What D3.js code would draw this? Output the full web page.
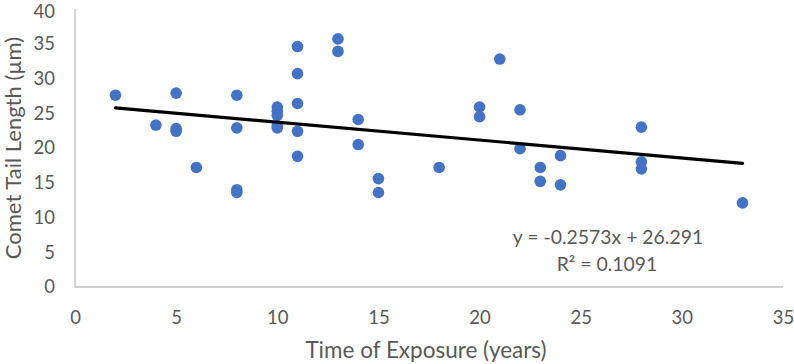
<!DOCTYPE html>
<html>
<head>
<meta charset="utf-8">
<script src="https://cdn.jsdelivr.net/npm/d3@7"></script>
<style>
  html, body { margin: 0; padding: 0; background: #fff; }
  svg text { font-family: Lato, "Open Sans", sans-serif; }
</style>
</head>
<body>
<svg id="chart" width="794" height="364"></svg>
<script>
// Data
const exposureYears = [2, 4, 5, 5, 5, 6, 8, 8, 8, 8, 10, 10, 10, 10, 10, 11, 11, 11, 11, 11, 13, 13, 14, 14, 15, 15, 18, 20, 20, 21, 22, 22, 23, 23, 24, 24, 28, 28, 28, 33];
const tailLength  = [27.6, 23.3, 27.9, 22.8, 22.4, 17.2, 27.6, 22.9, 14.0, 13.6, 25.9, 25.3, 24.7, 23.2, 22.9, 34.6, 30.7, 26.4, 22.4, 18.8, 35.7, 33.9, 24.1, 20.5, 15.6, 13.6, 17.2, 25.9, 24.5, 32.8, 25.5, 19.9, 17.2, 15.2, 18.9, 14.7, 23.0, 18.0, 17.0, 12.1];
const xTicks = [0, 5, 10, 15, 20, 25, 30, 35];
const yTicks = [0, 5, 10, 15, 20, 25, 30, 35, 40];
const trendSlope = -0.2573;
const trendIntercept = 26.291;
const trendLabel = "y = -0.2573x + 26.291";
const r2Label = "R² = 0.1091";
const xTitle = "Time of Exposure (years)";
const yTitle = "Comet Tail Length (µm)";

const svg = d3.select("#chart");
const x = d3.scaleLinear().domain([0, 35]).range([75, 783]);
const y = d3.scaleLinear().domain([0, 40]).range([287, 9]);

const axisColor = "#bfbfbf";
const textColor = "#595959";

// Axis lines
svg.append("line").attr("x1", x(0)).attr("x2", x(0)).attr("y1", y(40)).attr("y2", y(0))
  .attr("stroke", axisColor).attr("stroke-width", 1.3);
svg.append("line").attr("x1", x(0)).attr("x2", x(35)).attr("y1", y(0)).attr("y2", y(0))
  .attr("stroke", axisColor).attr("stroke-width", 1.3);

// Axes via d3 (tick labels only)
const xAxis = d3.axisBottom(x).tickValues(xTicks).tickSize(0).tickPadding(24).tickFormat(d3.format("d"));
const gx = svg.append("g").attr("transform", `translate(0,${y(0)})`).call(xAxis);
gx.select(".domain").remove();
gx.selectAll("text").attr("fill", textColor).style("font-size", "18.5px");

const yAxis = d3.axisLeft(y).tickValues(yTicks).tickSize(0).tickPadding(20).tickFormat(d3.format("d"));
const gy = svg.append("g").attr("transform", `translate(${x(0)},0)`).call(yAxis);
gy.select(".domain").remove();
gy.selectAll("text").attr("fill", textColor).style("font-size", "18.5px");
gy.selectAll("text").filter(d => d === 40).attr("dy", "0.45em");

// Points
const pts = exposureYears.map((d, i) => ({ x: d, y: tailLength[i] }));
svg.append("g").selectAll("circle").data(pts).join("circle")
  .attr("cx", d => x(d.x)).attr("cy", d => y(d.y)).attr("r", 5.8)
  .attr("fill", "#4472C4");

// Trendline
const xMin = d3.min(exposureYears), xMax = d3.max(exposureYears);
svg.append("line")
  .attr("x1", x(xMin)).attr("y1", y(trendSlope * xMin + trendIntercept))
  .attr("x2", x(xMax)).attr("y2", y(trendSlope * xMax + trendIntercept))
  .attr("stroke", "#000").attr("stroke-width", 3.2).attr("stroke-linecap", "round");

// Equation labels
svg.append("text").attr("x", 608).attr("y", 244).attr("text-anchor", "middle")
  .attr("fill", textColor).style("font-size", "19.4px").text(trendLabel);
svg.append("text").attr("x", 607).attr("y", 271).attr("text-anchor", "middle")
  .attr("fill", textColor).style("font-size", "19.4px").text(r2Label);

// Axis titles
svg.append("text").attr("x", 426).attr("y", 358).attr("text-anchor", "middle")
  .attr("fill", textColor).style("font-size", "22.5px").text(xTitle);
svg.append("text").attr("transform", "translate(21,148) rotate(-90)").attr("text-anchor", "middle")
  .attr("fill", textColor).style("font-size", "22px").text(yTitle);
</script>
</body>
</html>
